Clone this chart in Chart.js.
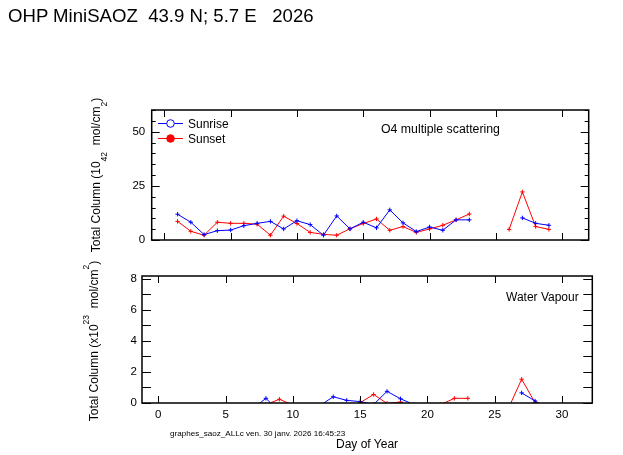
<!DOCTYPE html>
<html>
<head>
<meta charset="utf-8">
<script src="https://cdn.jsdelivr.net/npm/chart.js@4.4.1/dist/chart.umd.min.js"></script>
<style>
  html, body { margin:0; padding:0; background:#fff; }
  #wrap { position:relative; width:623px; height:455px; overflow:hidden; font-family:"Liberation Sans", Arial, sans-serif; color:#000; }
  canvas { position:absolute; left:0; top:0; }
  .t { position:absolute; white-space:pre; line-height:1; }
  .rot { position:absolute; white-space:pre; line-height:1; font-size:12px; transform:translate(-50%,-50%) rotate(-90deg); transform-origin:center center; }
  .sup { font-size:8.5px; position:relative; }
</style>
</head>
<body>
<div id="wrap">
  <canvas id="c1" width="623" height="455"></canvas>
  <canvas id="c2" width="623" height="455"></canvas>
  <div class="t" style="left:8px; top:7px; font-size:18.6px;">OHP MiniSAOZ  43.9 N; 5.7 E   2026</div>
  <div class="rot" style="left:96px; top:175px;">Total Column (10<span class="sup" style="top:7px;">42</span>  mol/cm<span class="sup" style="top:7px;">2</span>)</div>
  <div class="rot" style="left:94px; top:341px;">Total Column (x10<span class="sup" style="top:-9px;">23</span>  mol/cm<span class="sup" style="top:-9px;">2</span>)</div>
  <div class="t" style="left:381px; top:123px; font-size:12.3px;">O4 multiple scattering</div>
  <div class="t" style="left:506px; top:291px; font-size:12px;">Water Vapour</div>
  <div class="t" style="left:188px; top:117.5px; font-size:12px;">Sunrise</div>
  <div class="t" style="left:188px; top:132.5px; font-size:12px;">Sunset</div>
  <div class="t" style="left:170px; top:430px; font-size:8.1px;">graphes_saoz_ALLc ven. 30 janv. 2026 16:45:23</div>
  <div class="t" style="left:336px; top:437.5px; font-size:12px;">Day of Year</div>
</div>
<script>
// ---- data ----
const days = [1,2,3,4,5,6,7,8,9,10,11,12,13,14,15,16,17,18,19,20,21,22,23,24,25,26,27,28,29];
const o4Sunrise = [11.9,8.2,2.5,4.3,4.6,6.6,7.7,8.6,5.1,8.9,7.1,2.2,11.1,5.1,8.2,5.6,13.9,7.9,3.9,6.0,4.5,9.3,9.3,null,null,null,10.2,7.7,6.8];
const o4Sunset  = [8.6,4.0,2.2,8.2,7.7,7.7,7.3,2.2,11.0,7.6,3.5,2.6,2.2,5.2,7.6,9.7,4.5,6.2,3.5,5.1,6.8,9.3,12.0,null,null,4.9,22.2,6.2,4.9];
const h2oSunrise = [-0.5,-0.5,-0.5,-0.5,-0.5,-0.5,-0.37,0.3,-0.56,-0.5,-0.5,-0.17,0.4,0.17,0.09,-0.09,0.75,0.27,-0.1,-0.4,-0.4,-0.4,-0.4,null,null,null,0.65,0.13,-0.4];
const h2oSunset  = [-0.5,-0.5,-0.5,-0.5,-0.5,-0.5,-0.5,-0.1,0.24,-0.13,-0.5,-0.5,-0.5,-0.5,0.02,0.55,-0.03,0.06,-0.3,-0.4,-0.1,0.3,0.3,null,null,-0.38,1.53,0.02,-0.4];
const xTicks = [0,5,10,15,20,25,30];
const o4Ticks = [0,25,50];
const h2oTicks = [0,2,4,6,8];

const BLUE = '#0000ff', RED = '#ff0000';
const FONT = "'Liberation Sans', Arial, sans-serif";
const pts = vals => days.map((d,i) => ({x:d, y:vals[i]}));

function ds(label, vals, color){
  return { label, data: pts(vals), borderColor: color, backgroundColor: color,
    borderWidth: 1, pointStyle: 'cross', pointRadius: 2.2, pointBorderWidth: 1,
    pointBorderColor: color, pointHoverRadius: 0, tension: 0, spanGaps: false, fill: false };
}

function framePlugin(cfg){
  return {
    id: 'frame_' + cfg.name,
    afterDatasetsDraw(chart){
      const ctx = chart.ctx, a = chart.chartArea;
      const xs = chart.scales.x, ys = chart.scales.y;
      ctx.save();
      ctx.strokeStyle = '#000';
      ctx.lineWidth = cfg.frameW;
      ctx.strokeRect(a.left, a.top, a.right - a.left, a.bottom - a.top);
      ctx.lineWidth = 1;
      ctx.beginPath();
      xTicks.forEach(v => {
        const px = Math.round(xs.getPixelForValue(v)) + 0.5;
        ctx.moveTo(px, a.bottom); ctx.lineTo(px, a.bottom - cfg.xLen);
        ctx.moveTo(px, a.top); ctx.lineTo(px, a.top + cfg.xLen);
      });
      for (let v = ys.min; v <= ys.max + 1e-9; v += cfg.minorStep) {
        const vv = Math.round(v / cfg.minorStep) * cfg.minorStep;
        if (vv < ys.min || vv > ys.max) continue;
        const isMajor = cfg.majors.includes(vv);
        const len = isMajor ? cfg.yMajLen : cfg.yMinLen;
        const py = Math.round(ys.getPixelForValue(vv)) + 0.5;
        ctx.moveTo(a.left, py); ctx.lineTo(a.left + len, py);
        ctx.moveTo(a.right, py); ctx.lineTo(a.right - len, py);
      }
      ctx.stroke();
      if (cfg.legend) {
        const items = [{c: BLUE, y: 123.5, open: true}, {c: RED, y: 138.5, open: false}];
        items.forEach(it => {
          ctx.strokeStyle = it.c; ctx.lineWidth = 1;
          ctx.beginPath(); ctx.moveTo(158, it.y); ctx.lineTo(183, it.y); ctx.stroke();
          ctx.beginPath(); ctx.arc(170.5, it.y, 3.8, 0, Math.PI*2);
          if (it.open) { ctx.fillStyle = '#fff'; ctx.fill(); ctx.stroke(); }
          else { ctx.fillStyle = it.c; ctx.fill(); ctx.stroke(); }
        });
      }
      ctx.restore();
    }
  };
}

const common = {
  responsive: false, animation: false, devicePixelRatio: 1,
  events: [],
  plugins: { legend: {display:false}, title: {display:false}, tooltip: {enabled:false} }
};
const noGrid = { display:false, drawTicks:false };

// ---- top panel: O4 ----
new Chart(document.getElementById('c1'), {
  type: 'line',
  data: { datasets: [ ds('Sunrise', o4Sunrise, BLUE), ds('Sunset', o4Sunset, RED) ] },
  options: Object.assign({}, common, {
    layout: { padding: { top: 110, right: 34.3, left: 0, bottom: 0 } },
    scales: {
      x: { type: 'linear', min: -0.95, max: 32,
           grid: noGrid, border: {display:false}, ticks: {display:false},
           afterBuildTicks: s => { s.ticks = xTicks.map(v => ({value:v})); },
           afterFit: s => { s.height = 215; } },
      y: { type: 'linear', min: 0, max: 60,
           grid: noGrid, border: {display:false},
           ticks: { color:'#000', font: {family: FONT, size: 11.5}, padding: 6.5 },
           afterBuildTicks: s => { s.ticks = o4Ticks.map(v => ({value:v})); },
           afterFit: s => { s.width = 151.7; } }
    }
  }),
  plugins: [framePlugin({name:'o4', frameW:1.5, xLen:7, minorStep:5, majors:o4Ticks, yMajLen:8, yMinLen:4, legend:true})]
});

// ---- bottom panel: Water vapour ----
new Chart(document.getElementById('c2'), {
  type: 'line',
  data: { datasets: [ ds('Sunrise', h2oSunrise, BLUE), ds('Sunset', h2oSunset, RED) ] },
  options: Object.assign({}, common, {
    layout: { padding: { top: 276, right: 30.7, left: 0, bottom: 0 } },
    scales: {
      x: { type: 'linear', min: -1.21, max: 32.25,
           grid: noGrid, border: {display:false},
           ticks: { color:'#000', font: {family: FONT, size: 11.5}, padding: 5 },
           afterBuildTicks: s => { s.ticks = xTicks.map(v => ({value:v})); },
           afterFit: s => { s.height = 52; } },
      y: { type: 'linear', min: 0, max: 8.17,
           grid: noGrid, border: {display:false},
           ticks: { color:'#000', font: {family: FONT, size: 11.5}, padding: 5 },
           afterBuildTicks: s => { s.ticks = h2oTicks.map(v => ({value:v})); },
           afterFit: s => { s.width = 142; } }
    }
  }),
  plugins: [framePlugin({name:'h2o', frameW:1.5, xLen:7, minorStep:1, majors:h2oTicks, yMajLen:9, yMinLen:9, legend:false})]
});
</script>
</body>
</html>
